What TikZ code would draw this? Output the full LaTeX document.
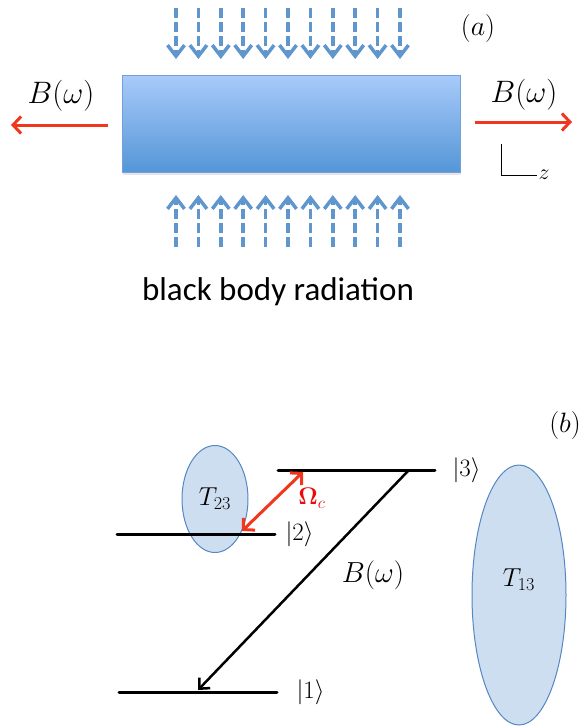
\RequirePackage{fix-cm}
\documentclass[tikz,border=0pt]{standalone}
\usepackage[no-math]{fontspec}
\newfontfamily\capfont{Carlito}
\usetikzlibrary{arrows.meta, positioning, shapes.geometric, shadows}
\definecolor{slabtop}{RGB}{168,202,250}
\definecolor{slabbot}{RGB}{84,150,215}
\definecolor{slabedge}{RGB}{115,160,215}
\definecolor{rad}{RGB}{95,150,205}
\definecolor{beam}{RGB}{240,55,30}
\definecolor{rabi}{RGB}{235,10,10}
\definecolor{cloud}{RGB}{205,222,241}
\definecolor{cloudedge}{RGB}{85,135,195}

\begin{document}
\begin{tikzpicture}[x=1pt, y=-1pt,
  slab/.style={rectangle, draw=slabedge, line width=1pt, top color=slabtop,
               bottom color=slabbot, minimum width=338pt, minimum height=97pt,
               drop shadow={opacity=0.2, shadow xshift=1pt, shadow yshift=-2pt}},
  ray/.style={draw=rad, line width=3.5pt, dash pattern=on 10pt off 4pt,
              -{Straight Barb[length=11pt, width=17pt, line width=3.5pt]}},
  beamarrow/.style={draw=beam, line width=3pt,
              -{Straight Barb[length=8pt, width=17pt, line width=3pt]}},
  lvl/.style={line width=3pt, line cap=round},
  cl/.style={ellipse, draw=cloudedge, fill=cloud, line width=1pt, inner sep=0pt},
  lab/.style={font=\fontsize{31}{33}\selectfont},
  ket/.style={font=\fontsize{25}{27}\selectfont},
  a/.style={-{Straight Barb[length=8pt, width=15pt, line width=2.5pt]}, line width=2.5pt}]
  \useasboundingbox (0,0) rectangle (583,726);

  \node[slab] (slab) at (291,124) {};
  \foreach \i in {0,...,10} {
    \draw[ray] (176+22.4*\i, 8) -- (176+22.4*\i, 59);
    \draw[ray] (176+22.4*\i, 247) -- (176+22.4*\i, 195);
  }
  \node[lab] (bl) at (61,96) {$B(\omega)$};
  \node[lab] (br) at (524,95) {$B(\omega)$};
  \coordinate (ol) at (108,125);
  \coordinate (olt) at (11,125);
  \coordinate (or) at (475,122);
  \coordinate (ort) at (572,122);
  \draw[beamarrow] (ol) -- (olt);
  \draw[beamarrow] (or) -- (ort);
  \node[font=\fontsize{28}{30}\selectfont] (pa) at (478,28) {$(a)$};
  \coordinate (zc) at (501,144);
  \node[font=\fontsize{22}{24}\selectfont, inner sep=1pt] (zl) at (544,175) {$z$};
  \draw[line width=1pt] (zc) |- (zl.west);
  \node[font=\capfont\fontsize{33}{35}\selectfont] (cap) at (278,292) {black body radiation};

  \node[font=\fontsize{28}{30}\selectfont] (pb) at (565,425) {$(b)$};
  \node[cl, minimum width=66pt, minimum height=107pt] (t23) at (215,499) {};
  \node[cl, minimum width=94pt, minimum height=260pt] (t13) at (519,595) {};
  \node[font=\fontsize{26}{28}\selectfont] at (t23) {$T_{23}$};
  \node[font=\fontsize{26}{28}\selectfont] at ([yshift=15pt]t13.center) {$T_{13}$};

  \coordinate (l3a) at (278,470);
  \coordinate (l3b) at (435,470);
  \coordinate (l2a) at (117,534);
  \coordinate (l2b) at (275,534);
  \coordinate (l1a) at (119,692);
  \coordinate (l1b) at (277,692);
  \draw[lvl] (l3a) -- (l3b);
  \draw[lvl] (l2a) -- (l2b);
  \draw[lvl] (l1a) -- (l1b);
  \node[ket, right=14pt of l3b] (k3) {$|3\rangle$};
  \node[ket, right=7pt of l2b] (k2) {$|2\rangle$};
  \node[ket, right=16pt of l1b] (k1) {$|1\rangle$};

  \coordinate (b3) at (408,471);
  \coordinate (b1) at (198,690);
  \draw[a] (b3) -- (b1);
  \node[font=\fontsize{29}{31}\selectfont] (bw) at (373,575) {$B(\omega)$};

  \coordinate (r3) at (303,472);
  \coordinate (r2) at (242,531);
  \draw[beamarrow, {Straight Barb[length=8pt, width=17pt, line width=3pt]}-{Straight Barb[length=8pt, width=17pt, line width=3pt]}] (r2) -- (r3);
  \node[text=rabi, font=\fontsize{24}{26}\selectfont] (om) at (312,498) {$\mathbf{\Omega}_c$};
\end{tikzpicture}
\end{document}
